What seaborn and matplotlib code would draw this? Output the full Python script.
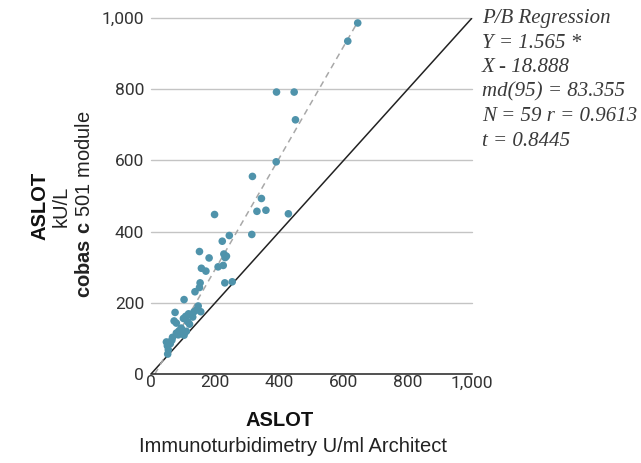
import matplotlib
matplotlib.use("Agg")
import matplotlib.pyplot as plt
import seaborn as sns
import numpy as np
import pandas as pd

# ---- data ----
x_vals = [644, 613, 391, 446, 450, 390, 316, 344, 198, 330, 358, 428, 314, 244,
          222, 151, 181, 227, 235, 231, 157, 171, 209, 225, 230, 253, 153, 151,
          137, 103, 147, 142, 155, 134, 75, 117, 108, 101, 72, 79, 114, 94, 87,
          79, 98, 103, 67, 48, 58, 51, 54, 52, 95, 110, 85, 120, 65, 130, 60]
y_vals = [986, 935, 792, 792, 714, 596, 555, 493, 448, 457, 460, 450, 392, 389,
          373, 344, 326, 337, 331, 327, 297, 289, 301, 305, 256, 259, 256, 243,
          231, 209, 191, 180, 175, 175, 173, 169, 162, 156, 149, 143, 147, 129, 121,
          115, 115, 109, 103, 90, 89, 79, 68, 56, 125, 120, 110, 140, 95, 160, 85]
slope = 1.565
intercept = -18.888
x_ticks = [0, 200, 400, 600, 800, 1000]
y_ticks = [0, 200, 400, 600, 800, 1000]
x_tick_labels = ["0", "200", "400", "600", "800", "1,000"]
y_tick_labels = ["0", "200", "400", "600", "800", "1,000"]
stats_lines = ["P/B Regression", "Y = 1.565 *", "X - 18.888",
               "md(95) = 83.355", "N = 59 r = 0.9613", "t = 0.8445"]

df = pd.DataFrame({"x": x_vals, "y": y_vals})

sns.set_style("white")
plt.rcParams["font.family"] = ["Roboto", "DejaVu Sans"]
plt.rcParams["mathtext.fontset"] = "custom"
plt.rcParams["mathtext.rm"] = "Liberation Sans"
plt.rcParams["mathtext.bf"] = "Liberation Sans:bold"

fig = plt.figure(figsize=(6.41, 4.63), dpi=100)
ax = fig.add_axes([151/641, 1-374/463, 321/641, 356/463])

ax.set_xlim(0, 1000)
ax.set_ylim(0, 1000)

for yt in y_ticks[1:]:
    ax.axhline(yt, color="#c4c4c4", lw=1.0, zorder=1, clip_on=False)

ax.plot([0, 1000], [0, 1000], color="#222222", lw=1.1, zorder=2)

x0 = -intercept / slope
x1 = max(x_vals)
ax.plot([x0, x1], [slope*x0 + intercept, slope*x1 + intercept],
        color="#a8a8a8", lw=1.1, ls=(0, (4, 3)), zorder=2)

sns.scatterplot(data=df, x="x", y="y", ax=ax, color="#4f93ab", s=30,
                edgecolor="none", zorder=3, clip_on=False)

ax.set_xticks(x_ticks)
ax.set_xticklabels(x_tick_labels)
ax.set_yticks(y_ticks)
ax.set_yticklabels(y_tick_labels)
ax.tick_params(axis="both", length=0, labelsize=12.5, labelcolor="#333333")
ax.tick_params(axis="x", pad=1)
ax.tick_params(axis="y", pad=5)
ax.set_xlabel("")
ax.set_ylabel("")
for s in ["top", "right", "left"]:
    ax.spines[s].set_visible(False)
ax.spines["bottom"].set_color("#222222")
ax.spines["bottom"].set_linewidth(1.1)

# axis labels
lab = "Liberation Sans"
fig.text(280/641, 1-420/463, "ASLOT", ha="center", va="center",
         fontsize=14.5, fontweight="bold", color="#111111", family=lab)
fig.text(293/641, 1-446/463, "Immunoturbidimetry U/ml Architect", ha="center",
         va="center", fontsize=14.5, color="#222222", family=lab)
fig.text(40/641, 1-206/463, "ASLOT", ha="center", va="center", rotation=90,
         fontsize=14.5, fontweight="bold", color="#111111", family=lab)
fig.text(61/641, 1-206/463, "kU/L", ha="center", va="center", rotation=90,
         fontsize=14.5, color="#222222", family=lab)
fig.text(85/641, 1-204/463, r"$\bf{cobas\ c}$ 501 module", ha="center",
         va="center", rotation=90, fontsize=14.5, color="#222222", family=lab)

for i, line in enumerate(stats_lines):
    fig.text(482/641, 1-(23 + 24.6*i)/463, line, ha="left", va="baseline",
             fontsize=15, style="italic", family="Liberation Serif",
             color="#3a3a3a")

fig.savefig("out.png", dpi=100)
